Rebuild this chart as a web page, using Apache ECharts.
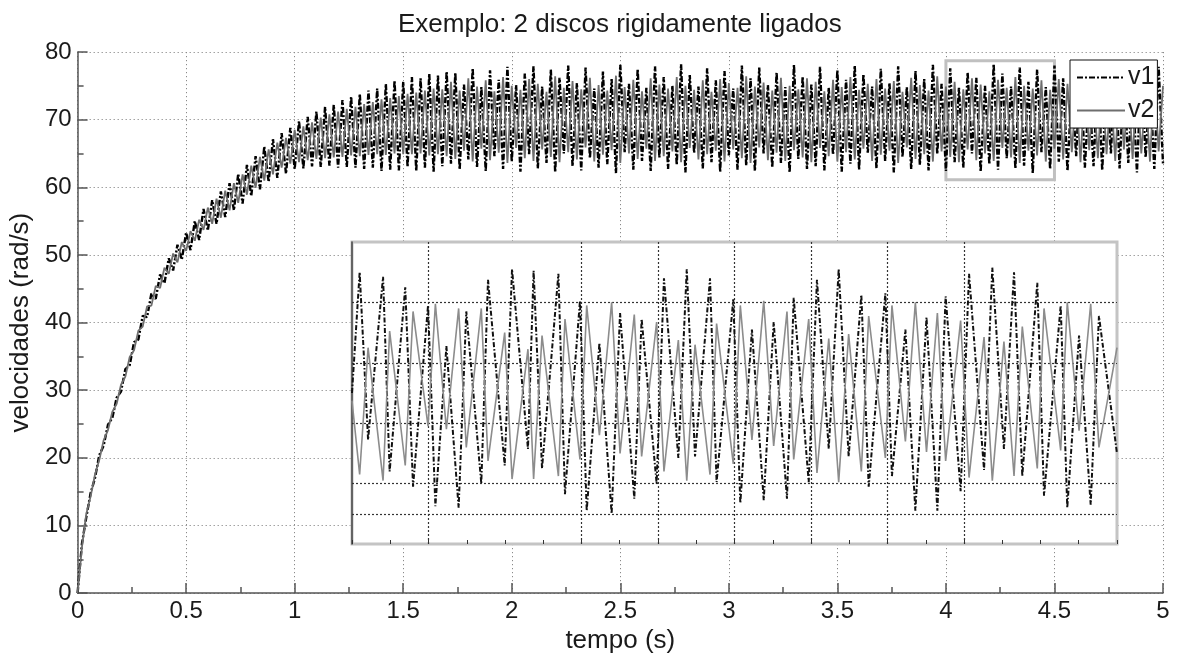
<!DOCTYPE html>
<html>
<head>
<meta charset="utf-8">
<script src="https://cdn.jsdelivr.net/npm/echarts@6/dist/echarts.min.js"></script>
<style>html,body{margin:0;padding:0;background:#fff}#c{width:1179px;height:659px}</style>
</head>
<body>
<div id="c"></div>
<script>
// ---------- data ----------
const titleText = 'Exemplo: 2 discos rigidamente ligados';
const xName = 'tempo (s)';
const yName = 'velocidades (rad/s)';
const seriesNames = ['v1', 'v2'];

// main plot: samples every 0.02 s from 0 to 5 s
const mainStep = 0.02;
const v1Main = [
  0, 7.3, 11.2, 14.8, 17.0, 20.4, 21.8, 24.9, 25.9, 28.9,
  29.8, 33.1, 33.7, 37.1, 37.5, 41.0, 40.8, 44.3, 43.5, 47.1,
  45.8, 49.5, 47.7, 51.5, 49.3, 53.3, 50.7, 55.0, 52.2, 56.8,
  53.6, 58.1, 54.6, 59.4, 55.6, 60.6, 56.6, 62.0, 57.6, 63.3,
  58.7, 64.6, 59.7, 66.0, 60.8, 67.1, 61.4, 68.0, 62.0, 68.8,
  62.7, 69.8, 62.8, 70.4, 63.1, 71.2, 63.0, 71.9, 63.2, 72.2,
  62.9, 72.9, 63.0, 73.4, 62.9, 73.8, 62.7, 74.3, 62.9, 74.6,
  62.4, 75.3, 62.6, 75.8, 62.5, 75.6, 63.0, 76.3, 62.4, 76.1,
  62.9, 76.8, 62.3, 76.5, 63.1, 77.1, 63.5, 76.9, 62.6, 75.2,
  64.1, 77.6, 63.0, 74.8, 62.4, 77.3, 64.6, 75.9, 62.7, 77.8,
  63.8, 75.1, 62.3, 76.8, 64.9, 77.9, 62.8, 74.9, 63.6, 77.4,
  62.2, 76.2, 65.0, 78.0, 63.1, 75.4, 62.5, 77.7, 64.3, 74.6,
  62.9, 77.1, 63.4, 76.0, 62.1, 78.1, 65.2, 75.3, 62.6, 77.5,
  63.9, 74.7, 62.4, 77.9, 64.4, 76.3, 62.7, 75.0, 63.3, 78.2,
  62.2, 76.6, 65.1, 74.9, 62.8, 77.6, 63.7, 75.8, 62.3, 77.2,
  64.7, 74.6, 62.6, 78.0, 63.2, 76.1, 62.4, 77.7, 65.0, 75.1,
  62.9, 77.0, 63.6, 74.8, 62.2, 78.1, 64.2, 76.4, 62.7, 75.2,
  63.1, 77.8, 62.5, 74.7, 64.8, 77.3, 62.3, 75.9, 63.5, 78.0,
  62.6, 76.7, 65.1, 74.9, 62.8, 77.5, 63.9, 75.4, 62.2, 77.9,
  64.5, 74.8, 62.7, 77.2, 63.3, 76.0, 62.5, 78.1, 64.9, 75.3,
  62.4, 77.6, 63.7, 74.7, 62.9, 77.0, 65.0, 76.2, 62.3, 75.0,
  63.4, 78.2, 62.6, 76.8, 64.3, 74.9, 62.8, 77.7, 63.2, 75.6,
  62.1, 77.4, 65.2, 74.8, 62.7, 78.0, 63.8, 76.1, 62.4, 75.2,
  64.6, 77.9, 62.9, 74.6, 63.1, 77.3, 62.5, 75.8, 65.0, 78.1,
  62.8, 76.5, 63.6, 74.9, 62.2, 77.6, 64.4, 75.4, 62.7, 77.8,
  63.5
];
const v2Main = [
  0, 6.8, 11.7, 14.3, 17.5, 19.7, 22.6, 24.1, 26.8, 28.0,
  30.8, 32.0, 34.9, 35.9, 38.8, 39.4, 42.4, 42.5, 45.4, 45.1,
  48.1, 47.2, 50.2, 48.9, 51.9, 50.6, 53.5, 52.1, 55.2, 53.7,
  57.0, 54.6, 58.3, 55.5, 59.5, 56.6, 60.6, 57.7, 61.9, 58.9,
  63.2, 59.9, 64.5, 61.0, 65.6, 61.9, 66.6, 62.9, 67.3, 63.5,
  68.5, 63.7, 69.0, 64.0, 69.6, 64.2, 70.3, 64.3, 70.8, 64.4,
  71.2, 64.5, 71.6, 64.7, 71.9, 64.6, 72.3, 64.8, 72.6, 64.9,
  73.0, 64.8, 73.2, 65.0, 73.5, 64.9, 73.8, 64.9, 74.0, 65.0,
  74.3, 64.7, 74.6, 64.9, 74.5, 64.6, 75.6, 64.2, 74.3, 65.4,
  76.1, 63.8, 74.9, 65.7, 75.8, 64.0, 74.2, 65.1, 76.3, 63.6,
  75.0, 65.8, 74.4, 64.3, 76.0, 63.9, 75.3, 65.6, 74.1, 64.5,
  76.4, 63.7, 74.7, 65.2, 75.7, 64.1, 74.5, 65.9, 76.2, 63.8,
  75.1, 64.8, 74.3, 65.5, 76.5, 63.6, 74.8, 65.0, 75.9, 64.2,
  74.2, 65.7, 76.1, 63.9, 75.2, 64.6, 74.6, 65.3, 76.3, 63.7,
  75.0, 65.8, 74.4, 64.1, 75.8, 64.9, 74.1, 65.4, 76.0, 63.8,
  75.4, 65.6, 74.7, 64.3, 76.4, 63.6, 74.9, 65.9, 75.5, 64.0,
  74.3, 65.1, 76.2, 63.9, 75.0, 65.5, 74.5, 64.4, 76.1, 63.7,
  75.6, 65.8, 74.2, 64.6, 75.9, 63.8, 74.8, 65.2, 76.3, 64.1,
  74.4, 65.7, 75.3, 63.9, 76.0, 64.8, 74.6, 65.4, 75.7, 63.6,
  74.1, 65.9, 76.2, 64.2, 75.1, 64.9, 74.3, 63.8, 76.4, 65.3,
  74.9, 64.5, 75.6, 63.7, 74.5, 65.6, 76.1, 64.0, 75.2, 65.0,
  74.2, 63.9, 75.9, 65.8, 74.7, 64.4, 76.3, 63.6, 75.0, 65.4,
  74.6, 64.7, 75.8, 63.8, 74.4, 65.7, 76.0, 64.1, 75.3, 65.2,
  74.1, 63.7, 76.2, 65.5, 74.8, 64.3, 75.5, 64.9, 74.3, 63.9,
  76.4, 65.6, 74.9, 64.2, 75.7, 65.0, 74.2, 63.8, 76.1, 65.3,
  75.0
];

// zoom window marked on the main plot
const zoomBoxT = [4.0, 4.5];
const zoomBoxV = [61.1, 78.7];

// inset (zoom of 4.0 - 4.5 s): extremes
const insetT = [
  4.000, 4.005, 4.0105, 4.0203, 4.0246, 4.0348, 4.0399, 4.0497, 4.0545, 4.0617,
  4.0697, 4.0747, 4.0845, 4.0889, 4.0998, 4.1046, 4.115, 4.1187, 4.1242, 4.1349,
  4.1392, 4.149, 4.1534, 4.1617, 4.1697, 4.1752, 4.1845, 4.1893, 4.1991, 4.2039,
  4.2133, 4.2188, 4.2242, 4.234, 4.2383, 4.2492, 4.2538, 4.2614, 4.2691, 4.2756,
  4.2843, 4.2887, 4.2985, 4.3039, 4.3116, 4.3181, 4.3246, 4.3329, 4.3377, 4.3486,
  4.3529, 4.3617, 4.3682, 4.3755, 4.3826, 4.388, 4.3978, 4.4033, 4.4131, 4.4185,
  4.4261, 4.4327, 4.4381, 4.4479, 4.4523, 4.4632, 4.4675, 4.4752, 4.4828, 4.4882,
  4.5
];
const insetV1 = [
  70.0, 78.0, 66.9, 77.7, 64.8, 77.0, 63.8, 75.8, 62.5, 73.1,
  62.4, 75.4, 64.0, 77.5, 65.2, 78.2, 66.3, 78.1, 65.0, 77.9,
  63.3, 76.1, 62.2, 73.3, 62.0, 75.3, 63.0, 74.9, 64.0, 77.6,
  65.7, 78.2, 65.8, 77.6, 64.1, 76.2, 62.7, 74.2, 62.9, 74.7,
  63.0, 76.3, 64.1, 77.5, 66.3, 78.2, 65.8, 76.5, 63.8, 76.6,
  64.5, 74.2, 62.2, 75.0, 62.2, 76.4, 63.5, 77.9, 64.9, 78.3,
  66.3, 78.0, 64.5, 77.3, 63.2, 75.8, 62.4, 73.8, 62.6, 75.1,
  66.0
];
const insetV2 = [
  69.5, 64.6, 73.0, 64.2, 74.1, 65.2, 75.4, 67.8, 75.9, 67.6,
  75.6, 66.4, 75.6, 65.5, 74.0, 64.3, 72.9, 64.3, 73.8, 64.5,
  74.9, 65.6, 75.8, 67.2, 76.0, 66.0, 75.2, 65.8, 74.7, 64.8,
  73.5, 64.2, 73.2, 64.6, 74.6, 65.3, 75.8, 66.9, 76.1, 66.5,
  75.4, 65.6, 74.9, 64.7, 73.6, 64.1, 73.9, 64.8, 75.1, 65.7,
  75.8, 66.8, 76.0, 66.1, 75.3, 65.5, 74.8, 64.4, 73.7, 64.2,
  73.4, 64.5, 74.4, 65.0, 75.6, 66.2, 76.0, 67.5, 75.9, 66.4,
  73.0
];
const insetGridX = [4.05, 4.15, 4.2, 4.25, 4.3, 4.35, 4.4];
const insetGridY = [62, 64, 68, 72, 76];

// ---------- chart ----------
const FONT = '"Liberation Sans", Arial, Helvetica, sans-serif';
const v1Pairs = v1Main.map((v, i) => [+(i * mainStep).toFixed(4), v]);
const v2Pairs = v2Main.map((v, i) => [+(i * mainStep).toFixed(4), v]);
const iv1Pairs = insetT.map((t, i) => [t, insetV1[i]]);
const iv2Pairs = insetT.map((t, i) => [t, insetV2[i]]);

const dashDot = [6, 2, 2, 2];
const gridDot = { color: '#8a8a8a', width: 1, type: [1.2, 2.8] };
const insetDot = { color: '#333', width: 1.2, type: [2, 2] };

const chart = echarts.init(document.getElementById('c'), null, { renderer: 'canvas' });
chart.setOption({
  animation: false,
  backgroundColor: '#ffffff',
  textStyle: { fontFamily: FONT },
  title: {
    text: titleText, left: 398, top: 12, padding: 0,
    textStyle: { fontFamily: FONT, fontSize: 26, fontWeight: 'normal', color: '#1a1a1a' }
  },
  legend: {
    data: seriesNames, orient: 'vertical', left: 1070, top: 60,
    backgroundColor: '#fff', borderColor: '#111', borderWidth: 1, borderRadius: 0,
    padding: [5, 3, 5, 6], itemGap: 8, itemWidth: 48, itemHeight: 14,
    itemStyle: { opacity: 0 },
    textStyle: { fontFamily: FONT, fontSize: 25, color: '#1a1a1a', padding: [0, 0, 0, -2] }
  },
  grid: [
    { left: 77, right: 16, top: 52, bottom: 61, show: false },
    { left: 352, top: 242, width: 765, height: 302, show: true, backgroundColor: '#ffffff',
      borderColor: '#c4c4c4', borderWidth: 3, z: 3 }
  ],
  xAxis: [
    {
      type: 'value', gridIndex: 0, min: 0, max: 5, interval: 0.5,
      name: xName, nameLocation: 'middle', nameGap: 28,
      nameTextStyle: { fontFamily: FONT, fontSize: 26, color: '#1a1a1a' },
      axisLine: { show: true, onZero: false, lineStyle: { color: '#555', width: 1.5 } },
      axisTick: { show: true, inside: true, length: 10, lineStyle: { color: '#555', width: 1.5 } },
      minorTick: { show: true, splitNumber: 2, length: 6, lineStyle: { color: '#555', width: 1.5 } },
      axisLabel: { fontFamily: FONT, fontSize: 24, color: '#1a1a1a', margin: 6,
        formatter: v => String(+v.toFixed(2)) },
      splitLine: { show: true, lineStyle: gridDot }
    },
    {
      type: 'value', gridIndex: 1, min: 4, max: 4.5, interval: 0.025, z: 4,
      axisLine: { show: false },
      axisTick: { show: true, inside: true, length: 4, lineStyle: { color: '#333', width: 1 } },
      axisLabel: { show: false },
      splitLine: { show: false }
    }
  ],
  yAxis: [
    {
      type: 'value', gridIndex: 0, min: 0, max: 80, interval: 10,
      name: yName, nameLocation: 'middle', nameGap: 36, nameRotate: 90,
      nameTextStyle: { fontFamily: FONT, fontSize: 26, color: '#1a1a1a' },
      axisLine: { show: true, onZero: false, lineStyle: { color: '#555', width: 1.5 } },
      axisTick: { show: true, inside: true, length: 10, lineStyle: { color: '#555', width: 1.5 } },
      minorTick: { show: true, splitNumber: 2, length: 6, lineStyle: { color: '#555', width: 1.5 } },
      axisLabel: { fontFamily: FONT, fontSize: 24, color: '#1a1a1a', margin: 6 },
      splitLine: { show: true, lineStyle: gridDot }
    },
    {
      type: 'value', gridIndex: 1, min: 60, max: 80, z: 4,
      axisLine: { show: true, lineStyle: { color: '#444', width: 1.5 } },
      axisTick: { show: false },
      axisLabel: { show: false },
      splitLine: { show: false }
    }
  ],
  series: [
    {
      name: 'v1', type: 'line', xAxisIndex: 0, yAxisIndex: 0, data: v1Pairs,
      symbol: 'none', showSymbol: false, z: 2,
      lineStyle: { color: '#000', width: 2.4, type: dashDot },
      itemStyle: { color: '#000' },
      markArea: {
        silent: true,
        itemStyle: { color: 'rgba(0,0,0,0)', borderColor: '#c0c0c0', borderWidth: 3 },
        data: [[{ coord: [zoomBoxT[0], zoomBoxV[0]] }, { coord: [zoomBoxT[1], zoomBoxV[1]] }]]
      }
    },
    {
      name: 'v2', type: 'line', xAxisIndex: 0, yAxisIndex: 0, data: v2Pairs,
      symbol: 'none', showSymbol: false, z: 2,
      lineStyle: { color: '#6e6e6e', width: 1.8, type: 'solid' },
      itemStyle: { color: '#6e6e6e' }
    },
    {
      name: 'v1 (zoom)', type: 'line', xAxisIndex: 1, yAxisIndex: 1, data: iv1Pairs,
      symbol: 'none', showSymbol: false, z: 5,
      lineStyle: { color: '#111', width: 2, type: [5, 2, 1.5, 2] }
    },
    {
      name: 'v2 (zoom)', type: 'line', xAxisIndex: 1, yAxisIndex: 1, data: iv2Pairs,
      symbol: 'none', showSymbol: false, z: 6,
      lineStyle: { color: '#8c8c8c', width: 1.6, type: 'solid' },
      markLine: {
        silent: true, symbol: 'none', label: { show: false },
        lineStyle: insetDot,
        data: insetGridX.map(x => ({ xAxis: x })).concat(insetGridY.map(y => ({ yAxis: y })))
      }
    }
  ]
});
</script>
</body>
</html>
